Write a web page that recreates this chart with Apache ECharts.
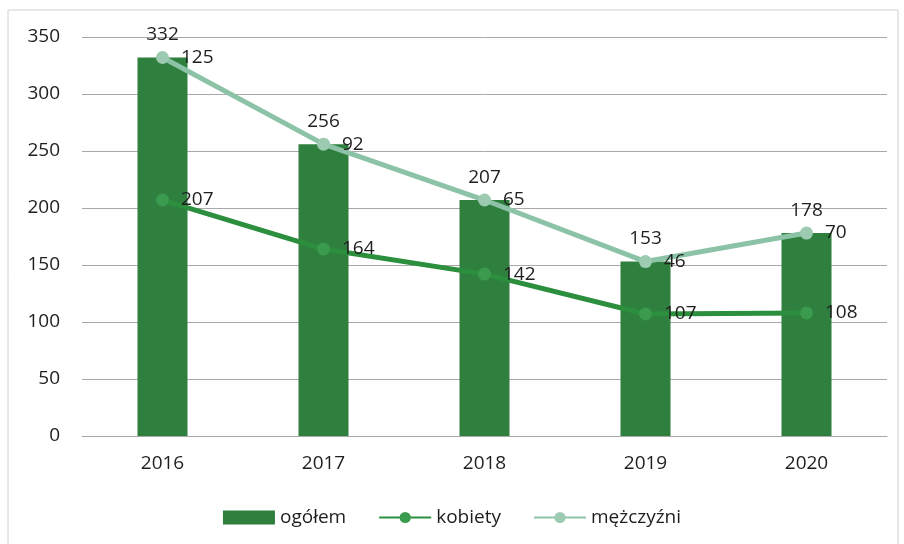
<!DOCTYPE html>
<html>
<head>
<meta charset="utf-8">
<script src="https://cdn.jsdelivr.net/npm/echarts@6/dist/echarts.min.js"></script>
<style>
html, body { margin: 0; padding: 0; background: #fff; }
#main { width: 904px; height: 544px; }
</style>
</head>
<body>
<div id="main"></div>
<script>
var years = ['2016', '2017', '2018', '2019', '2020'];
var ogolem = [332, 256, 207, 153, 178];
var kobiety = [207, 164, 142, 107, 108];
var mezczyzni = [125, 92, 65, 46, 70];
var yTicks = [0, 50, 100, 150, 200, 250, 300, 350];

var myChart = echarts.init(document.getElementById('main'));

var labelStyle = {
    show: true,
    color: '#1e1e1e',
    fontSize: 19,
    fontFamily: 'Open Sans'
};

var option = {
    backgroundColor: '#fff',
    textStyle: { fontFamily: 'Open Sans' },
    graphic: [{
        type: 'rect',
        shape: { x: 8, y: 10, width: 890, height: 540 },
        style: { fill: 'none', stroke: '#d0d0d0', lineWidth: 1 },
        silent: true
    }],
    grid: { left: 82, right: 17, top: 37, bottom: 108 },
    legend: {
        bottom: 12,
        left: 'center',
        itemGap: 32,
        itemWidth: 52,
        itemHeight: 14,
        textStyle: { fontSize: 19, color: '#1e1e1e', fontFamily: 'Open Sans' },
        data: [{ name: 'ogółem', icon: 'rect' }, 'kobiety', 'mężczyźni']
    },
    xAxis: {
        type: 'category',
        data: years,
        axisLine: { show: true, lineStyle: { color: '#a8a8a8' } },
        axisTick: { show: false },
        axisLabel: { color: '#1e1e1e', fontSize: 19, margin: 18 }
    },
    yAxis: {
        type: 'value',
        min: yTicks[0],
        max: yTicks[yTicks.length - 1],
        interval: 50,
        axisLine: { show: false },
        axisTick: { show: false },
        axisLabel: { color: '#1e1e1e', fontSize: 19, margin: 22 },
        splitLine: { lineStyle: { color: '#a8a8a8', width: 1 } }
    },
    series: [{
        name: 'ogółem',
        type: 'bar',
        barWidth: 50,
        itemStyle: { color: '#2f7f3e' },
        label: Object.assign({}, labelStyle, { position: 'top', distance: 13 }),
        data: ogolem,
        z: 1
    }, {
        name: 'kobiety',
        type: 'line',
        stack: 'osoby',
        symbol: 'circle',
        symbolSize: 13,
        lineStyle: { color: '#2b8f3d', width: 5 },
        itemStyle: { color: '#3a9a4e' },
        label: Object.assign({}, labelStyle, { position: 'right', distance: 12 }),
        data: kobiety,
        z: 3
    }, {
        name: 'mężczyźni',
        type: 'line',
        stack: 'osoby',
        symbol: 'circle',
        symbolSize: 13,
        lineStyle: { color: '#8cc3a6', width: 5 },
        itemStyle: { color: '#9ccbb2' },
        label: Object.assign({}, labelStyle, { position: 'right', distance: 12 }),
        data: mezczyzni,
        z: 4
    }]
};

myChart.setOption(option);
</script>
</body>
</html>
